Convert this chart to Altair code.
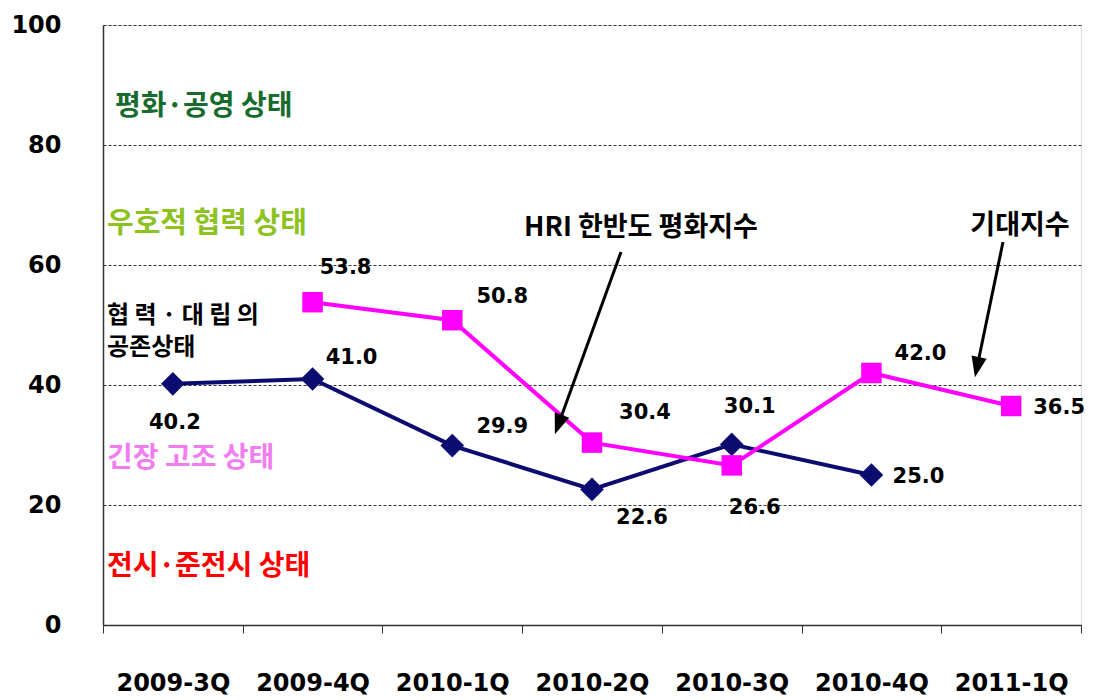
import altair as alt
import pandas as pd
import math

quarters = ["2009-3Q", "2009-4Q", "2010-1Q", "2010-2Q", "2010-3Q", "2010-4Q", "2011-1Q"]
hri_q = ["2009-3Q", "2009-4Q", "2010-1Q", "2010-2Q", "2010-3Q", "2010-4Q"]
hri_v = [40.2, 41.0, 29.9, 22.6, 30.1, 25.0]
exp_q = ["2009-4Q", "2010-1Q", "2010-2Q", "2010-3Q", "2010-4Q", "2011-1Q"]
exp_v = [53.8, 50.8, 30.4, 26.6, 42.0, 36.5]
series_names = ["HRI 한반도 평화지수", "기대지수"]

NAVY = "#0c0c70"
MAG = "#ff00ff"
W, H = 978, 600

df = pd.DataFrame(
    [{"q": q, "v": v, "s": series_names[0]} for q, v in zip(hri_q, hri_v)]
    + [{"q": q, "v": v, "s": series_names[1]} for q, v in zip(exp_q, exp_v)]
)
df["label"] = df["v"].map(lambda x: f"{x:.1f}")

xenc = alt.X(
    "q:N",
    sort=quarters,
    scale=alt.Scale(domain=quarters, paddingInner=0, paddingOuter=0),
    axis=alt.Axis(
        title=None, labelAngle=0, tickBand="extent", tickSize=8, tickColor="#333333",
        domainColor="#333333", domainWidth=1.5, labelFont="DejaVu Sans", labelFontSize=24,
        labelFontWeight="bold", labelColor="#000000", labelPadding=38, grid=False,
    ),
)
yenc = alt.Y(
    "v:Q",
    scale=alt.Scale(domain=[0, 100], nice=False, zero=True),
    axis=alt.Axis(
        title=None, values=[0, 20, 40, 60, 80, 100], tickSize=0, labelPadding=42,
        labelFont="DejaVu Sans", labelFontSize=24, labelFontWeight="bold",
        labelColor="#000000", domainColor="#333333", domainWidth=1.5,
        grid=True, gridDash=[3, 2], gridColor="#333333", gridWidth=1,
    ),
)
color = alt.Color("s:N", scale=alt.Scale(domain=series_names, range=[NAVY, MAG]), legend=None)

base = alt.Chart(df)
lines = base.mark_line(strokeWidth=4).encode(x=xenc, y=yenc, color=color, detail="s:N")
pts_hri = base.transform_filter(alt.datum.s == series_names[0]).mark_point(
    shape="diamond", filled=True, size=560, opacity=1, color=NAVY
).encode(x=xenc, y=yenc)
pts_exp = base.transform_filter(alt.datum.s == series_names[1]).mark_point(
    shape="square", filled=True, size=420, opacity=1, color=MAG
).encode(x=xenc, y=yenc)

# label offsets (style, pixels) per series/quarter
offsets = {
    (series_names[0], "2009-3Q"): (2, 39),
    (series_names[0], "2009-4Q"): (39, -21),
    (series_names[0], "2010-1Q"): (50, -19),
    (series_names[0], "2010-2Q"): (50, 29),
    (series_names[0], "2010-3Q"): (18, -37),
    (series_names[0], "2010-4Q"): (47, 2),
    (series_names[1], "2009-4Q"): (33, -34),
    (series_names[1], "2010-1Q"): (50, -23),
    (series_names[1], "2010-2Q"): (53, -30),
    (series_names[1], "2010-3Q"): (23, 43),
    (series_names[1], "2010-4Q"): (49, -19),
    (series_names[1], "2011-1Q"): (48, 2),
}
label_layers = []
for (s, q), (dx, dy) in offsets.items():
    label_layers.append(
        base.transform_filter((alt.datum.s == s) & (alt.datum.q == q)).mark_text(
            font="DejaVu Sans", fontSize=21, fontWeight="bold", color="#000000",
            dx=dx, dy=dy, align="center", baseline="middle",
        ).encode(x=xenc, y=yenc, text="label:N")
    )

# zone annotations
zones = [
    ("평화·공영 상태", "#176b2c", 12, 82, 28),
    ("우호적 협력 상태", "#8dc21f", 4, 199, 29),
    ("협 력 · 대 립 의", "#000000", 4, 291, 24),
    ("공존상태", "#000000", 4, 323, 24),
    ("긴장 고조 상태", "#f27df0", 4, 434, 28),
    ("전시·준전시 상태", "#ff0000", 4, 542, 28),
]
zone_layers = []
for txt, col, px, py, fs in zones:
    zone_layers.append(
        alt.Chart(pd.DataFrame({"t": [txt]})).mark_text(
            font="Noto Sans CJK KR", fontSize=fs, fontWeight="bold", color=col,
            align="left", baseline="middle",
        ).encode(x=alt.value(px), y=alt.value(py), text="t:N")
    )

# series name callouts with arrows
callouts = [
    (series_names[0], 538, 203),
    (series_names[1], 917, 201),
]
callout_layers = []
for txt, px, py in callouts:
    callout_layers.append(
        alt.Chart(pd.DataFrame({"t": [txt]})).mark_text(
            font="Noto Sans CJK KR", fontSize=27, fontWeight="bold", color="#000000",
            align="center", baseline="middle",
        ).encode(x=alt.value(px), y=alt.value(py), text="t:N")
    )

arrows = [
    ((518, 227), (452, 409), 20.2),
    ((900, 217), (872, 352), 11.7),
]
arrow_layers = []
for (x1, y1), (x2, y2), ang in arrows:
    dxv, dyv = x2 - x1, y2 - y1
    L = math.hypot(dxv, dyv)
    ux, uy = dxv / L, dyv / L
    cx, cy = x2 - 10 * ux, y2 - 10 * uy
    arrow_layers.append(
        alt.Chart(pd.DataFrame({"a": [0]})).mark_rule(color="#000000", strokeWidth=3).encode(
            x=alt.value(x1), x2=alt.value(cx), y=alt.value(y1), y2=alt.value(cy)
        )
    )
    arrow_layers.append(
        alt.Chart(pd.DataFrame({"a": [0]})).mark_point(
            shape="M-0.75,-1L0.75,-1L0,1Z", filled=True, size=420, color="#000000",
            opacity=1, angle=ang,
        ).encode(x=alt.value(cx), y=alt.value(cy))
    )

chart = alt.layer(
    lines, pts_hri, pts_exp, *label_layers, *zone_layers, *callout_layers, *arrow_layers
).properties(
    width=W, height=H,
    autosize=alt.AutoSizeParams(type="none"),
    padding={"left": 95, "top": 17, "right": 6, "bottom": 76},
).configure_view(stroke=None).configure(background="#ffffff")

chart.save("out.html", embed_options={"renderer": "svg", "actions": False})
